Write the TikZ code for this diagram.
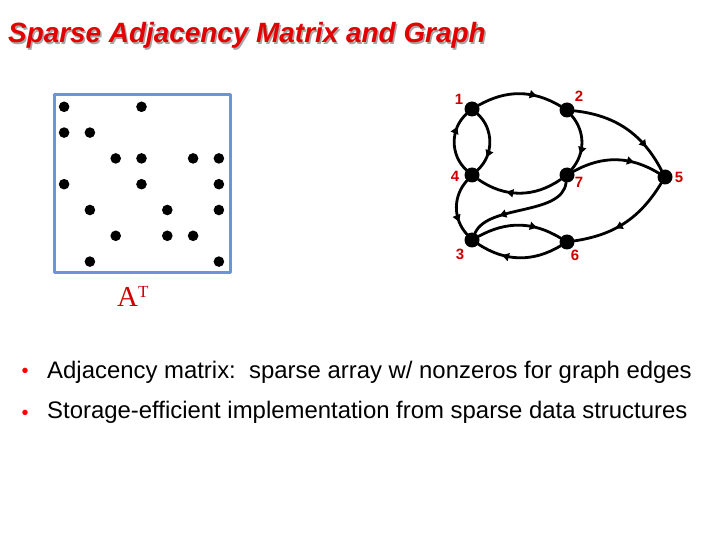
\documentclass[tikz,border=0pt]{standalone}
\usepackage{fontspec}
\setmainfont{Liberation Sans}
\newfontfamily\serifA{Liberation Serif}
\usetikzlibrary{arrows.meta,decorations.markings}
\definecolor{titlered}{RGB}{226,0,0}
\definecolor{labelred}{RGB}{204,0,0}
\definecolor{boxblue}{RGB}{110,145,225}
\tikzset{
  vertex/.style={circle,fill=black,inner sep=0pt,minimum size=15bp},
  vlabel/.style={text=labelred,font=\bfseries\fontsize{15}{15}\selectfont,inner sep=0pt},
  edge/.style={line width=2.8bp,postaction={decorate},
    decoration={markings,mark=at position #1 with {\arrow{>}}}},
  edge/.default=0.7,
  bodytext/.style={anchor=base west,inner sep=0pt,font=\fontsize{24}{24}\selectfont},
  bulletdot/.style={anchor=base,inner sep=0pt,text=red,font=\fontsize{20}{20}\selectfont}
}
\begin{document}
\begin{tikzpicture}[line cap=round,line join=round,>={Triangle[length=7bp,width=8bp]},x=1bp,y=1bp]
\useasboundingbox (0,0) rectangle (720,-540);
% title with its shadow
\node[anchor=base west,inner sep=0pt,text=black!35,font=\bfseries\itshape\fontsize{28}{28}\selectfont] at (9.5,-44.5) {Sparse Adjacency Matrix and Graph};
\node[anchor=base west,inner sep=0pt,text=titlered,font=\bfseries\itshape\fontsize{28}{28}\selectfont] (title) at (8,-43) {Sparse Adjacency Matrix and Graph};
% the matrix
\draw[boxblue,line width=3bp] (54,-95) rectangle (230,-272);
\foreach \r/\c in {1/1,1/4,2/1,2/2,3/3,3/4,3/6,3/7,4/1,4/4,4/7,5/2,5/5,5/7,6/3,6/5,6/6,7/2,7/7}
  \fill (38.3+25.8*\c,-81-25.8*\r) circle (5.3bp);
\node[anchor=base west,inner sep=0pt,text=labelred,font=\serifA\fontsize{29}{29}\selectfont] (AT) at (117,-306) {A\raisebox{9bp}{\fontsize{17}{17}\selectfont T}};
% the graph
\node[vertex] (v1) at (472,-109) {};
\node[vertex] (v2) at (567,-110) {};
\node[vertex] (v4) at (472,-175) {};
\node[vertex] (v7) at (567,-175) {};
\node[vertex] (v5) at (665,-177) {};
\node[vertex] (v3) at (472,-240) {};
\node[vertex] (v6) at (567,-242) {};
\node[vlabel] at (459,-99) {1};
\node[vlabel] at (579,-96) {2};
\node[vlabel] at (455,-176) {4};
\node[vlabel] at (579,-182) {7};
\node[vlabel] at (679,-177) {5};
\node[vlabel] at (460,-254) {3};
\node[vlabel] at (575,-255) {6};
\draw[edge] (v1) to[bend left=30] (v2);
\draw[edge=0.75] (v1) to[bend left=48] (v4);
\draw[edge=0.75] (v4) to[bend left=48] (v1);
\draw[edge] (v2) to[bend left=40] (v7);
\draw[edge=0.75] (v2) to[bend left=28] (v5);
\draw[edge] (v7) to[bend left=30] (v5);
\draw[edge=0.6] (v5) to[bend left=25] (v6);
\draw[edge=0.65] (v7) to[bend left=35] (v4);
\draw[edge=0.75] (v4) to[bend right=42] (v3);
\draw[edge=0.72] (v7) .. controls (562,-216) and (488,-204) .. (v3);
\draw[edge] (v3) to[bend left=30] (v6);
\draw[edge] (v6) to[bend left=32] (v3);
% bullets
\node[bulletdot] (d1) at (25,-377) {•};
\node[bodytext] (b1) at (47,-378) {Adjacency matrix:\ \ sparse array w/ nonzeros for graph edges};
\node[bulletdot] (d2) at (25,-419) {•};
\node[bodytext] (b2) at (47,-418) {Storage-efficient implementation from sparse data structures};
\end{tikzpicture}
\end{document}
